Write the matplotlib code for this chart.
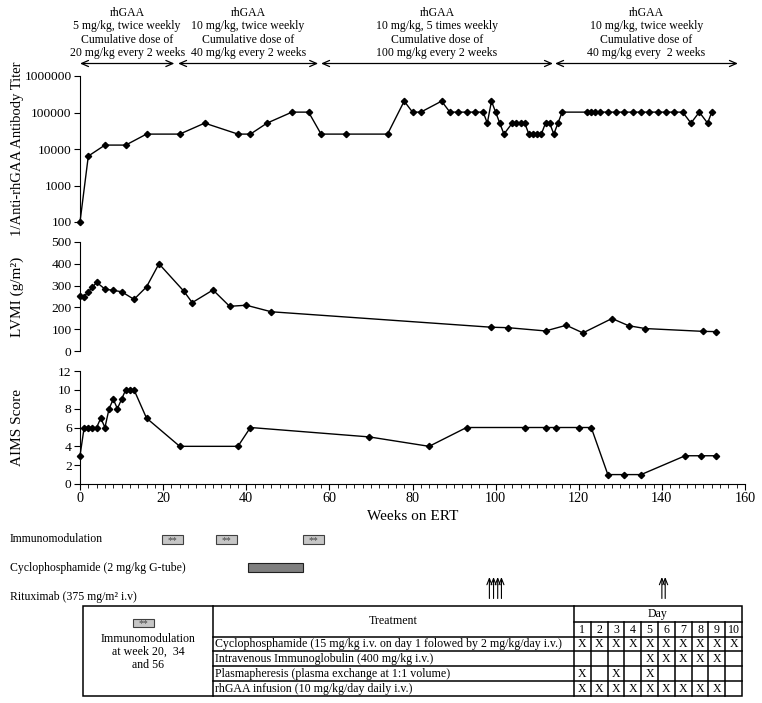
import numpy as np
import matplotlib
matplotlib.use('Agg')
import matplotlib.pyplot as plt
from matplotlib.patches import Rectangle
from matplotlib.transforms import blended_transform_factory

plt.rcParams['font.family'] = ['Liberation Serif', 'DejaVu Serif']

# titre anti-rhGAA (1/titre) par semaine
semaines_titre = [0, 2, 6, 11, 16, 24, 30, 38, 41, 45, 51, 55, 58, 64, 74, 78, 80, 82, 87,
                  89, 91, 93, 95, 97, 98, 99, 100, 101, 102, 104, 105, 106, 107, 108, 109,
                  110, 111, 112, 113, 114, 115, 116, 122, 123, 124, 125, 127, 129, 131, 133,
                  135, 137, 139, 141, 143, 145, 147, 149, 151, 152]
titre = [100, 6400, 12800, 12800, 25600, 25600, 51200, 25600, 25600, 51200, 102400, 102400,
         25600, 25600, 25600, 204800, 102400, 102400, 204800,
         102400, 102400, 102400, 102400, 102400, 51200, 204800, 102400, 51200, 25600,
         51200, 51200, 51200, 51200, 25600, 25600,
         25600, 25600, 51200, 51200, 25600, 51200, 102400, 102400, 102400, 102400, 102400,
         102400, 102400, 102400, 102400,
         102400, 102400, 102400, 102400, 102400, 102400, 51200, 102400, 51200, 102400]

# LVMI (g/m2)
semaines_lvmi = [0, 1, 2, 3, 4, 6, 8, 10, 13, 16, 19, 25, 27, 32, 36, 40, 46,
                 99, 103, 112, 117, 121, 128, 132, 136, 150, 153]
lvmi = [253, 250, 272, 292, 315, 284, 278, 272, 237, 294, 400, 274, 222, 280, 205, 210, 180,
        109, 107, 92, 118, 83, 149, 116, 103, 90, 89]

# score AIMS
semaines_aims = [0, 1, 2, 3, 4, 5, 6, 7, 8, 9, 10, 11, 12, 13, 16, 24, 38, 41, 69.6, 84, 93,
                 107, 112, 114.5, 120, 123, 127, 131, 135, 145.6, 149.5, 153]
aims = [3, 6, 6, 6, 6, 7, 6, 8, 9, 8, 9, 10, 10, 10, 7, 4, 4, 6, 5, 4, 6,
        6, 6, 6, 6, 6, 1, 1, 1, 3, 3, 3]

# phases de traitement rhGAA
phase_debut = [0, 23.6, 58, 114.3]
phase_fin = [22.7, 57.3, 113.8, 158.3]
phase_texte = ["rhGAA\n5 mg/kg, twice weekly\nCumulative dose of\n20 mg/kg every 2 weeks",
               "rhGAA\n10 mg/kg, twice weekly\nCumulative dose of\n40 mg/kg every 2 weeks",
               "rhGAA\n10 mg/kg, 5 times weekly\nCumulative dose of\n100 mg/kg every 2 weeks",
               "rhGAA\n10 mg/kg, twice weekly\nCumulative dose of\n40 mg/kg every  2 weeks"]

# immunomodulation, cyclophosphamide oral, rituximab
immuno_debut = [19.7, 32.7, 53.7]
immuno_duree = 5
cyclo_debut, cyclo_fin = 40.4, 53.7
rituximab = [98.5, 99.5, 100.5, 101.4, 140, 140.8]

# tableau du protocole
traitements = ["Cyclophosphamide (15 mg/kg i.v. on day 1 folowed by 2 mg/kg/day i.v.)",
               "Intravenous Immunoglobulin (400 mg/kg i.v.)",
               "Plasmapheresis (plasma exchange at 1:1 volume)",
               "rhGAA infusion (10 mg/kg/day daily i.v.)"]
jours = list(range(1, 11))
jours_traitement = [list(range(1, 11)), [5, 6, 7, 8, 9], [1, 3, 5], list(range(1, 10))]

W, H = 762, 703
fig = plt.figure(figsize=(W / 100, H / 100), dpi=100)

def px_axes(x0, y0, x1, y1):
    return fig.add_axes([x0 / W, 1 - y1 / H, (x1 - x0) / W, (y1 - y0) / H])

ax1 = px_axes(80, 76, 745, 222)
ax2 = px_axes(80, 242, 745, 351)
ax3 = px_axes(80, 371, 745, 484)

style = dict(color='black', lw=1.0, marker='D', markersize=3.2, clip_on=False, zorder=3)
ax1.plot(semaines_titre, titre, **style)
ax2.plot(semaines_lvmi, lvmi, **style)
ax3.plot(semaines_aims, aims, **style)

ax1.set_yscale('log')
ax1.set_ylim(100, 1e6)
ax1.set_yticks([100, 1000, 10000, 100000, 1000000])
ax1.set_yticklabels(['100', '1000', '10000', '100000', '1000000'])
ax1.minorticks_off()
ax2.set_ylim(0, 500)
ax2.set_yticks(range(0, 501, 100))
ax3.set_ylim(0, 12)
ax3.set_yticks(range(0, 13, 2))

for ax in (ax1, ax2, ax3):
    ax.set_xlim(0, 160)
    for s in ('top', 'right'):
        ax.spines[s].set_visible(False)
    ax.spines['left'].set_linewidth(0.8)
    ax.spines['bottom'].set_linewidth(0.8)
    ax.tick_params(axis='y', direction='out', length=4, width=0.8, labelsize=9.7, pad=2)
    ax.patch.set_alpha(0)
for ax in (ax1, ax2):
    ax.spines['bottom'].set_visible(False)
    ax.set_xticks([])

ax3.set_xticks(range(0, 161, 20))
ax3.set_xticks(range(0, 161, 2), minor=True)
ax3.tick_params(axis='x', which='major', direction='out', length=4, width=0.8, labelsize=10.2, pad=2)
ax3.tick_params(axis='x', which='minor', direction='out', length=3, width=0.6)
ax3.set_xlabel('Weeks on ERT', fontsize=11, labelpad=3)

ax1.set_ylabel('1/Anti-rhGAA Antibody Titer', fontsize=10.5)
ax2.set_ylabel('LVMI (g/m²)', fontsize=11)
ax3.set_ylabel('AIMS Score', fontsize=11)
for ax in (ax1, ax2, ax3):
    ax.yaxis.set_label_coords(-0.084, 0.5)

# calque en pixels pour les annotations hors graphiques
ov = fig.add_axes([0, 0, 1, 1])
ov.set_xlim(0, W)
ov.set_ylim(H, 0)
ov.axis('off')

tr = blended_transform_factory(ax3.transData, ov.transData)

# phases
for d, f, t in zip(phase_debut, phase_fin, phase_texte):
    ov.annotate('', xy=(f, 63.5), xytext=(d, 63.5), xycoords=tr, textcoords=tr,
                arrowprops=dict(arrowstyle='<->,head_length=0.5,head_width=0.22',
                                lw=0.9, color='black', shrinkA=0, shrinkB=0))
    ov.text((d + f) / 2, 33, t, transform=tr, ha='center', va='center',
            fontsize=8.5, linespacing=1.12)

# lignes des traitements
ov.text(10, 539, 'Immunomodulation', va='center', fontsize=8.5)
ov.text(10, 568, 'Cyclophosphamide (2 mg/kg G-tube)', va='center', fontsize=8.5)
ov.text(10, 597, 'Rituximab (375 mg/m² i.v)', va='center', fontsize=8.5)

for d in immuno_debut:
    ov.add_patch(Rectangle((d, 535), immuno_duree, 8.5, transform=tr,
                           facecolor='#c6c6c6', edgecolor='#404040', lw=0.8))
    ov.text(d + immuno_duree / 2, 540.5, '**', transform=tr, ha='center', va='center',
            fontsize=7, color='#444444')
ov.add_patch(Rectangle((cyclo_debut, 562.7), cyclo_fin - cyclo_debut, 9, transform=tr,
                       facecolor='#7f7f7f', edgecolor='#202020', lw=0.8))
for r in rituximab:
    ov.annotate('', xy=(r, 577), xytext=(r, 598.5), xycoords=tr, textcoords=tr,
                arrowprops=dict(arrowstyle='->,head_length=0.45,head_width=0.18',
                                lw=0.8, color='black', shrinkA=0, shrinkB=0))

# tableau
x0, x1, x2, x3 = 83, 213, 574, 742
y_haut, y_jour, y_tete = 606, 621.7, 636.7
y_lignes = [636.7, 651, 665.7, 680.7, 695.7]
xcol = np.linspace(x2, x3, len(jours) + 1)
lk = dict(color='black', lw=1.1)
ov.add_patch(Rectangle((x0, y_haut), x3 - x0, y_lignes[-1] - y_haut, fill=False,
                       edgecolor='black', lw=1.1))
ov.plot([x1, x1], [y_haut, y_lignes[-1]], **lk)
ov.plot([x2, x2], [y_haut, y_lignes[-1]], **lk)
ov.plot([x2, x3], [y_jour, y_jour], **lk)
for y in y_lignes[:-1]:
    ov.plot([x1, x3], [y, y], **lk)
for x in xcol[1:-1]:
    ov.plot([x, x], [y_jour, y_lignes[-1]], **lk)

ov.text((x1 + x2) / 2, (y_haut + y_tete) / 2, 'Treatment', ha='center', va='center', fontsize=8.6)
ov.text((x2 + x3) / 2, (y_haut + y_jour) / 2, 'Day', ha='center', va='center', fontsize=8.6)
for j in jours:
    ov.text((xcol[j - 1] + xcol[j]) / 2, (y_jour + y_tete) / 2 + 0.5, str(j),
            ha='center', va='center', fontsize=8.6)
for i, (nom, jj) in enumerate(zip(traitements, jours_traitement)):
    yc = (y_lignes[i] + y_lignes[i + 1]) / 2 + 0.5
    ov.text(x1 + 2, yc, nom, va='center', fontsize=8.55)
    for j in jj:
        ov.text((xcol[j - 1] + xcol[j]) / 2, yc, 'X', ha='center', va='center', fontsize=8.6)

ov.add_patch(Rectangle((132.7, 619), 21.3, 8, facecolor='#c6c6c6', edgecolor='#404040', lw=0.8))
ov.text(143.3, 623.5, '**', ha='center', va='center', fontsize=7, color='#444444')
ov.text((x0 + x1) / 2, 652, 'Immunomodulation\nat week 20,  34\nand 56', ha='center',
        va='center', fontsize=8.6, linespacing=1.12)

fig.savefig('out.png', dpi=100)
